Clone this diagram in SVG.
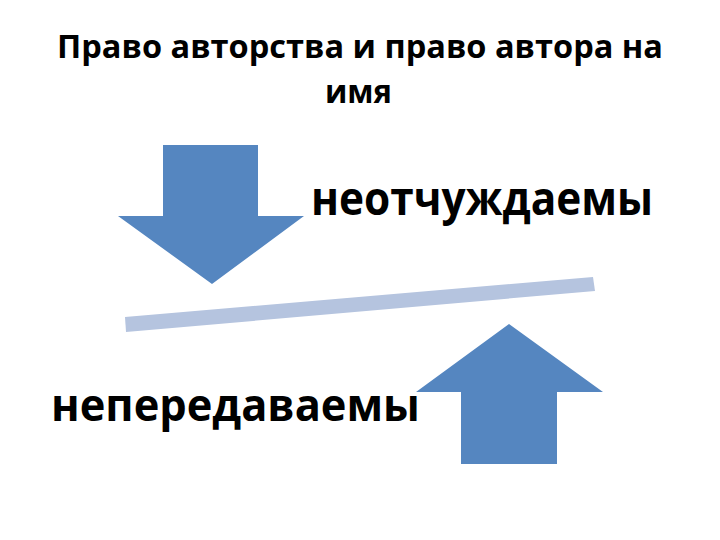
<svg xmlns="http://www.w3.org/2000/svg" width="720" height="540" viewBox="0 0 720 540">
<style>
.t{font-family:"Open Sans","Liberation Sans",sans-serif;font-weight:bold;fill:#000}
.arrow{fill:#5586C0}
.bar{fill:#B5C4DF}
</style>
<rect width="720" height="540" fill="#fff"/>
<g id="title">
<text class="t" x="57" y="58" font-size="32" textLength="606" lengthAdjust="spacingAndGlyphs">Право авторства и право автора на</text>
<text class="t" x="325" y="103" font-size="32" textLength="67" lengthAdjust="spacingAndGlyphs">имя</text>
</g>
<g id="arrow-down"><polygon class="arrow" points="163,145 258,145 258,216 304,216 212,284 118,216 163,216"/></g>
<g id="arrow-up"><polygon class="arrow" points="509,324 603,392 557,392 557,464 461,464 461,392 416,392"/></g>
<g id="bar"><polygon class="bar" points="125,317 593,277 595,291 126,332"/></g>
<g id="label-top"><text class="t" x="311" y="215" font-size="46" textLength="342" lengthAdjust="spacingAndGlyphs">неотчуждаемы</text></g>
<g id="label-bottom"><text class="t" x="51" y="421" font-size="45" textLength="369" lengthAdjust="spacingAndGlyphs">непередаваемы</text></g>
</svg>
